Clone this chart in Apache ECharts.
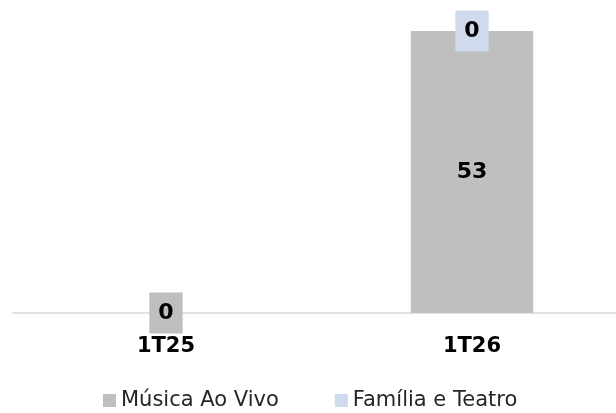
<!DOCTYPE html>
<html>
<head>
<meta charset="utf-8">
<script src="https://cdn.jsdelivr.net/npm/echarts@6/dist/echarts.min.js"></script>
<style>
  html, body { margin: 0; padding: 0; background: #fff; }
  #chart { width: 616px; height: 413px; }
</style>
</head>
<body>
<div id="chart"></div>
<script>
const categories = ["1T25", "1T26"];
const musicaValues = [0, 53];
const familiaValues = [0, 0];
const seriesNames = ["Música Ao Vivo", "Família e Teatro"];

const fontFamily = "DejaVu Sans";

const chart = echarts.init(document.getElementById("chart"));

// label box in the series colour, like the original
function barLabel(bg) {
  return {
    show: true,
    position: "inside",
    color: "#000",
    fontFamily: fontFamily,
    fontWeight: "bold",
    fontSize: 22,
    lineHeight: 21,
    backgroundColor: bg,
    padding: [10, 9]
  };
}

const option = {
  animation: false,
  grid: {
    top: 31,
    left: 13,
    width: 612,
    height: 282,
    outerBoundsMode: "none"
  },
  legend: {
    data: seriesNames,
    left: 103,
    top: 390,
    padding: 0,
    icon: "rect",
    itemWidth: 13,
    itemHeight: 13,
    itemGap: 56,
    textStyle: {
      fontFamily: fontFamily,
      fontSize: 21,
      color: "#262626"
    }
  },
  xAxis: {
    type: "category",
    data: categories,
    axisLine: { lineStyle: { color: "#D9D9D9", width: 1.5 } },
    axisTick: { show: false },
    axisLabel: {
      margin: 23,
      color: "#000",
      fontFamily: fontFamily,
      fontWeight: "bold",
      fontSize: 21
    }
  },
  yAxis: {
    type: "value",
    min: 0,
    max: 53,
    show: false
  },
  series: [
    {
      name: seriesNames[0],
      type: "bar",
      stack: "total",
      barWidth: "40%",
      itemStyle: { color: "#BFBFBF" },
      label: barLabel("#BFBFBF"),
      data: musicaValues
    },
    {
      name: seriesNames[1],
      type: "bar",
      stack: "total",
      barWidth: "40%",
      z: 3,
      itemStyle: { color: "#CFDAEC" },
      label: barLabel("#CFDAEC"),
      data: familiaValues.map((v, i) =>
        i === 0 ? { value: v, label: { show: false } } : v
      )
    }
  ]
};

chart.setOption(option);
</script>
</body>
</html>
